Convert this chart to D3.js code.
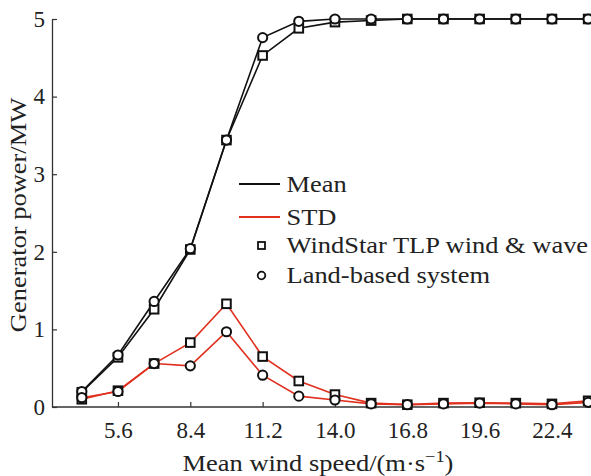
<!DOCTYPE html>
<html>
<head>
<meta charset="utf-8">
<script src="https://cdn.jsdelivr.net/npm/d3@7"></script>
<style>
  html, body { margin: 0; padding: 0; background: #fff; }
  svg { display: block; }
  text { font-family: "Liberation Serif", "DejaVu Serif", serif; fill: #222; }
</style>
</head>
<body>
<svg id="chart" width="591" height="476"></svg>
<script>
// Wind speeds (m/s) at which generator power was evaluated
const windSpeeds = [4.2, 5.6, 7.0, 8.4, 9.8, 11.2, 12.6, 14.0, 15.4, 16.8, 18.2, 19.6, 21.0, 22.4, 23.8];

// Mean generator power (MW)
const meanTLP  = [0.19, 0.64, 1.26, 2.03, 3.44, 4.53, 4.88, 4.96, 4.98, 5.0, 5.0, 5.0, 5.0, 5.0, 5.0];
const meanLand = [0.20, 0.67, 1.36, 2.04, 3.44, 4.76, 4.97, 5.0, 5.0, 5.0, 5.0, 5.0, 5.0, 5.0, 5.0];

// Standard deviation of generator power (MW)
const stdTLP  = [0.10, 0.21, 0.56, 0.83, 1.33, 0.65, 0.335, 0.16, 0.05, 0.03, 0.05, 0.055, 0.05, 0.04, 0.08];
const stdLand = [0.12, 0.20, 0.56, 0.53, 0.97, 0.41, 0.14, 0.09, 0.04, 0.03, 0.04, 0.05, 0.04, 0.03, 0.06];

const xTicks = [5.6, 8.4, 11.2, 14.0, 16.8, 19.6, 22.4];
const yTicks = [0, 1, 2, 3, 4, 5];

const legendItems = [
  { label: "Mean", kind: "line", color: "#111" },
  { label: "STD", kind: "line", color: "#e0301e" },
  { label: "WindStar TLP wind & wave", kind: "square" },
  { label: "Land-based system", kind: "circle" }
];

const svg = d3.select("#chart");
const x = d3.scaleLinear().domain([3.0, 24.0]).range([50.8, 593.3]);
const y = d3.scaleLinear().domain([0, 5]).range([407, 19]);

const fontSize = 23;
const FONT = '"Liberation Serif", "DejaVu Serif", serif';
// Widen word labels slightly so they read like a broad book face
const stretch = 1.15;
function widen(sel) {
  sel.each(function () {
    const len = this.getComputedTextLength();
    d3.select(this).attr("textLength", len * stretch).attr("lengthAdjust", "spacingAndGlyphs");
  });
}

// Axes with inward ticks
const xAxis = svg.append("g")
  .attr("transform", `translate(0,${y(0)})`)
  .call(d3.axisBottom(x).tickValues(xTicks).tickFormat(d3.format(".1f")).tickSizeInner(-5).tickSizeOuter(0).tickPadding(15));
xAxis.select(".domain").attr("stroke", "#333").attr("stroke-width", 1.3)
  .attr("d", `M${x(3.05)},0H591`);
xAxis.selectAll(".tick line").attr("stroke", "#333").attr("stroke-width", 1.2);
xAxis.selectAll(".tick text").style("font-size", fontSize + "px")
  .style("font-family", FONT).attr("fill", "#222");

const yAxis = svg.append("g")
  .attr("transform", `translate(52,0)`)
  .call(d3.axisLeft(y).tickValues(yTicks).tickFormat(d3.format("d")).tickSizeInner(-5).tickSizeOuter(0).tickPadding(7));
yAxis.select(".domain").attr("stroke", "#333").attr("stroke-width", 1.3);
yAxis.selectAll(".tick line").attr("stroke", "#333").attr("stroke-width", 1.2);
yAxis.selectAll(".tick text").style("font-size", fontSize + "px")
  .style("font-family", FONT).attr("fill", "#222");

// Axis titles
const xTitle = svg.append("text")
  .attr("x", 318).attr("y", 471)
  .attr("text-anchor", "middle")
  .style("font-size", fontSize + "px");
xTitle.append("tspan").text("Mean wind speed/(m·s");
xTitle.append("tspan").attr("dy", -9).style("font-size", "16px").text("−1");
xTitle.append("tspan").attr("dy", 9).text(")");
widen(xTitle);

const yTitle = svg.append("text")
  .attr("transform", "translate(26,215) rotate(-90)")
  .attr("text-anchor", "middle")
  .style("font-size", fontSize + "px")
  .text("Generator power/MW");
widen(yTitle);

// Series
const series = [
  { values: meanTLP,  color: "#111",    marker: "square" },
  { values: meanLand, color: "#111",    marker: "circle" },
  { values: stdTLP,   color: "#e0301e", marker: "square" },
  { values: stdLand,  color: "#e0301e", marker: "circle" }
];

const line = d3.line().x(d => x(d[0])).y(d => y(d[1]));

series.forEach(s => {
  const pts = windSpeeds.map((w, i) => [w, s.values[i]]);
  svg.append("path")
    .datum(pts)
    .attr("fill", "none")
    .attr("stroke", s.color)
    .attr("stroke-width", 1.6)
    .attr("d", line);
});

series.forEach(s => {
  const pts = windSpeeds.map((w, i) => [w, s.values[i]]);
  const g = svg.append("g");
  if (s.marker === "square") {
    g.selectAll("rect").data(pts).join("rect")
      .attr("x", d => x(d[0]) - 4.3).attr("y", d => y(d[1]) - 4.3)
      .attr("width", 8.6).attr("height", 8.6)
      .attr("fill", "#fff").attr("stroke", "#111").attr("stroke-width", 2);
  } else {
    g.selectAll("circle").data(pts).join("circle")
      .attr("cx", d => x(d[0])).attr("cy", d => y(d[1]))
      .attr("r", 4.6)
      .attr("fill", "#fff").attr("stroke", "#111").attr("stroke-width", 2);
  }
});

// Legend
const legendRows = [184, 217, 245.5, 275.5];
const legend = svg.append("g").attr("transform", "translate(239,0)");
legendItems.forEach((item, i) => {
  const g = legend.append("g").attr("transform", `translate(0,${legendRows[i]})`);
  if (item.kind === "line") {
    g.append("line").attr("x1", 0).attr("x2", 41).attr("y1", 0).attr("y2", 0)
      .attr("stroke", item.color).attr("stroke-width", 1.8);
  } else if (item.kind === "square") {
    g.append("rect").attr("x", 19).attr("y", -3.5).attr("width", 7).attr("height", 7)
      .attr("fill", "#fff").attr("stroke", "#111").attr("stroke-width", 1.8);
  } else {
    g.append("circle").attr("cx", 22.5).attr("cy", 0).attr("r", 3.8)
      .attr("fill", "#fff").attr("stroke", "#111").attr("stroke-width", 1.8);
  }
  const t = g.append("text").attr("x", 47.5).attr("y", 0).attr("dy", "0.33em")
    .style("font-size", fontSize + "px").text(item.label);
  widen(t);
});
</script>
</body>
</html>
